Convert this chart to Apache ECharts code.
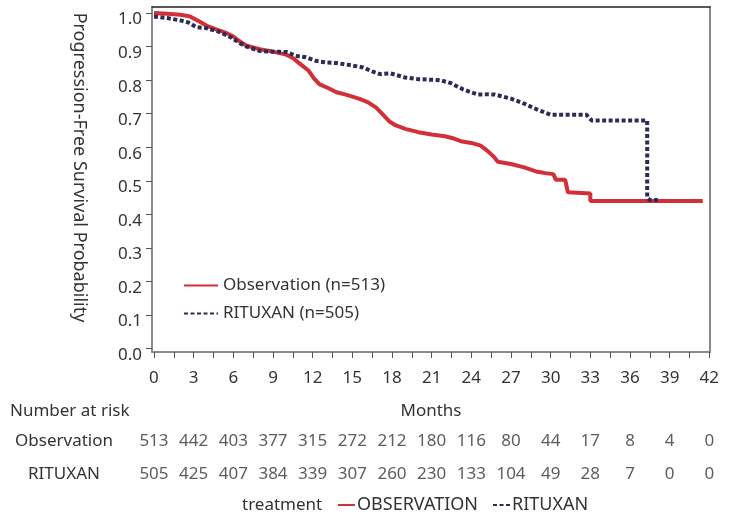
<!DOCTYPE html>
<html>
<head>
<meta charset="utf-8">
<script src="https://cdn.jsdelivr.net/npm/echarts@6/dist/echarts.min.js"></script>
<style>html,body{margin:0;padding:0;background:#fff;}#c{width:730px;height:520px;}</style>
</head>
<body>
<div id="c"></div>
<script>
// Observation arm (Kaplan-Meier)
var obsTime = [0,1,2,2.7,3.3,4,4.8,5.5,6,6.5,7,8,9,10,10.5,11,11.7,12.1,12.5,13.2,13.8,14.5,15.5,16.2,16.8,17.3,17.8,18.3,19,20,21,22,22.6,23.2,24,24.7,25.2,25.7,26,27,28,29,29.6,30.2,30.4,31.1,31.3,33.0,33.0,41.5];
var obsProb = [1.0,0.998,0.995,0.99,0.978,0.962,0.95,0.94,0.93,0.915,0.903,0.892,0.885,0.876,0.866,0.85,0.828,0.805,0.788,0.776,0.764,0.757,0.745,0.734,0.718,0.698,0.677,0.665,0.655,0.645,0.638,0.633,0.627,0.618,0.613,0.605,0.59,0.572,0.557,0.55,0.54,0.527,0.523,0.52,0.503,0.503,0.466,0.462,0.44,0.44];
// RITUXAN arm
var ritTime = [0,1,2,2.6,3.2,4,5,5.8,6.5,7,8,9,10,10.8,11.5,12.3,13,13.8,14.8,15.8,16.5,17.1,17.9,19,20,21.6,22.4,23.4,24.5,25.3,25.8,27,28,29,30,32.7,33.1,37.3,37.3,37.5,38.1];
var ritProb = [0.99,0.985,0.978,0.972,0.958,0.955,0.943,0.928,0.91,0.9,0.887,0.885,0.884,0.872,0.868,0.857,0.853,0.851,0.845,0.838,0.826,0.818,0.82,0.808,0.803,0.8,0.792,0.772,0.757,0.758,0.757,0.745,0.73,0.712,0.697,0.697,0.68,0.68,0.45,0.443,0.443];
// Number at risk
var riskMonths = [0,3,6,9,12,15,18,21,24,27,30,33,36,39,42];
var obsRisk = [513,442,403,377,315,272,212,180,116,80,44,17,8,4,0];
var ritRisk = [505,425,407,384,339,307,260,230,133,104,49,28,7,0,0];
var groups = ['Observation','RITUXAN'];
var yTicks = [0,0.1,0.2,0.3,0.4,0.5,0.6,0.7,0.8,0.9,1.0];
var xTicks = []; for (var i=0;i<=28;i++) xTicks.push(i*1.5);
var xLabels = riskMonths.slice();

function zip(a,b){return a.map(function(v,i){return [v,b[i]];});}
var riskData = [];
riskMonths.forEach(function(m,i){riskData.push([m,groups[0],obsRisk[i]]); riskData.push([m,groups[1],ritRisk[i]]);});

var FONT = 'Noto Sans';
var FS = 17;
var TXT = '#333';
var RED = '#d22f38';
var NAVY = '#2b2c56';

var chart = echarts.init(document.getElementById('c'), null, {renderer:'canvas'});
chart.setOption({
  animation:false,
  textStyle:{fontFamily:FONT,color:TXT},
  title:[
    {text:'Number at risk',left:5,top:398,textStyle:{fontFamily:FONT,fontSize:FS,fontWeight:'normal',color:TXT}},
    {text:'treatment',left:237,top:492,textStyle:{fontFamily:FONT,fontSize:FS,fontWeight:'normal',color:TXT}}
  ],
  legend:[
    {orient:'vertical',left:178,top:272,itemWidth:34,itemHeight:14,itemGap:11,
     data:groups,textStyle:{fontFamily:FONT,fontSize:FS,color:TXT},itemStyle:{opacity:0},
     formatter:function(n){return n==='Observation'?'Observation (n=513)':'RITUXAN (n=505)';}},
    {orient:'horizontal',left:332,top:491,itemWidth:17,itemHeight:14,itemGap:14,
     data:groups,textStyle:{fontFamily:FONT,fontSize:18,color:TXT,padding:[0,0,0,-3]},itemStyle:{opacity:0},
     formatter:function(n){return n.toUpperCase();}}
  ],
  grid:[
    {left:152,right:20,top:7,bottom:168,containLabel:false},
    {left:152,right:20,top:425,height:66,containLabel:false}
  ],
  xAxis:[
    {type:'value',gridIndex:0,min:-0.15,max:42.05,position:'bottom',
     name:'Months',nameLocation:'middle',nameGap:51,nameTextStyle:{fontFamily:FONT,fontSize:FS,color:TXT},
     axisLine:{onZero:false,lineStyle:{color:'#8a8a8a',width:2}},
     axisTick:{show:true,length:6,customValues:xTicks,lineStyle:{color:'#555',width:1}},
     axisLabel:{customValues:xLabels,fontFamily:FONT,fontSize:FS,color:TXT,margin:18},
     splitLine:{show:false}},
    {type:'value',gridIndex:0,min:-0.15,max:42.05,position:'top',
     axisLine:{onZero:false,lineStyle:{color:'#222',width:1.5}},
     axisTick:{show:false},axisLabel:{show:false},splitLine:{show:false}},
    {type:'value',gridIndex:1,min:-0.15,max:42.05,show:false}
  ],
  yAxis:[
    {type:'value',gridIndex:0,min:-0.01,max:1.018,
     name:'Progression-Free Survival Probability',nameLocation:'middle',nameRotate:-90,nameGap:64,
     nameTextStyle:{fontFamily:FONT,fontSize:18,color:TXT,padding:[0,24,0,0]},
     axisLine:{show:true,onZero:false,lineStyle:{color:'#8a8a8a',width:2}},
     axisTick:{show:true,length:6,customValues:yTicks,lineStyle:{color:'#555',width:1}},
     axisLabel:{customValues:yTicks,fontFamily:FONT,fontSize:FS,color:TXT,margin:10,
       verticalAlign:'top',lineHeight:13,
       formatter:function(v){return v.toFixed(1);}},
     splitLine:{show:false}},
    {type:'value',gridIndex:0,min:-0.01,max:1.018,position:'right',
     axisLine:{show:true,onZero:false,lineStyle:{color:'#8a8a8a',width:2}},
     axisTick:{show:false},axisLabel:{show:false},splitLine:{show:false}},
    {type:'category',gridIndex:1,data:groups,inverse:true,
     axisLine:{show:false},axisTick:{show:false},
     axisLabel:{fontFamily:FONT,fontSize:FS,color:TXT,align:'center',margin:88}}
  ],
  series:[
    {name:'Observation',type:'line',xAxisIndex:0,yAxisIndex:0,data:zip(obsTime,obsProb),
     showSymbol:false,symbol:'none',lineStyle:{color:RED,width:4},itemStyle:{color:RED},z:3},
    {name:'RITUXAN',type:'line',xAxisIndex:0,yAxisIndex:0,data:zip(ritTime,ritProb),
     showSymbol:false,symbol:'none',lineStyle:{color:NAVY,width:4,type:[4,2.5]},itemStyle:{color:NAVY},z:4},
    {name:'risk',type:'scatter',xAxisIndex:2,yAxisIndex:2,data:riskData,symbolSize:0,
     label:{show:true,position:'inside',fontFamily:FONT,fontSize:FS,color:TXT,
       formatter:function(p){return String(p.value[2]);}},
     silent:true}
  ]
});
</script>
</body>
</html>
